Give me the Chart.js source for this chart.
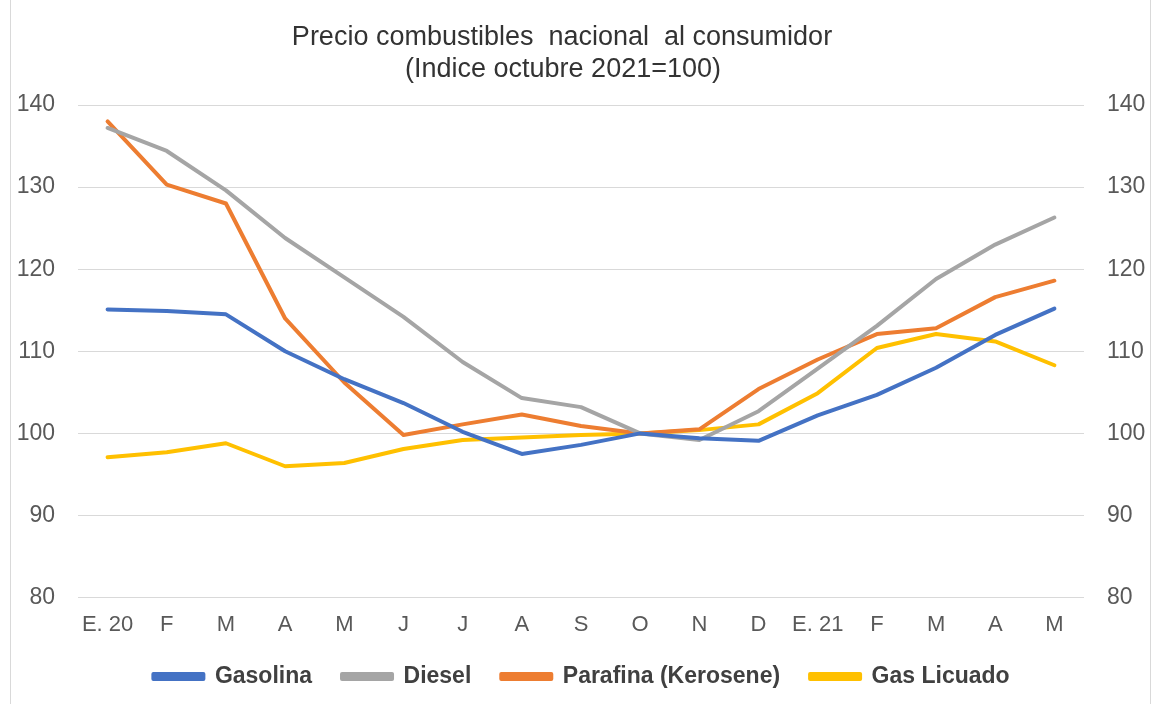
<!DOCTYPE html>
<html>
<head>
<meta charset="utf-8">
<script src="https://cdn.jsdelivr.net/npm/chart.js@4"></script>
<style>
  html, body { margin: 0; padding: 0; background: #fff; }
  #wrap { position: relative; width: 1163px; height: 704px; }
  #frame { position: absolute; left: 10px; top: 0; width: 1139px; height: 704px;
           border-left: 1px solid #d9d9d9; border-right: 1px solid #d9d9d9; pointer-events: none; }
</style>
</head>
<body>
<div id="wrap">
  <canvas id="c" width="1163" height="704"></canvas>
  <div id="frame"></div>
</div>
<script>
const titleLines = ["Precio combustibles  nacional  al consumidor", "(Indice octubre 2021=100)"];
const categories = ["E. 20", "F", "M", "A", "M", "J", "J", "A", "S", "O", "N", "D", "E. 21", "F", "M", "A", "M"];
const yTicks = [80, 90, 100, 110, 120, 130, 140];
const seriesNames = ["Gasolina", "Diesel", "Parafina (Kerosene)", "Gas Licuado"];
const gasolina = [115.1, 114.9, 114.5, 110.0, 106.6, 103.7, 100.2, 97.5, 98.6, 100.0, 99.4, 99.1, 102.2, 104.7, 108.0, 112.0, 115.2];
const diesel = [137.2, 134.4, 129.6, 123.8, 119.0, 114.2, 108.7, 104.3, 103.2, 100.0, 99.2, 102.7, 107.9, 113.1, 118.8, 123.0, 126.3];
const parafina = [138.0, 130.3, 128.0, 114.0, 106.2, 99.8, 101.1, 102.3, 100.9, 100.0, 100.5, 105.4, 109.0, 112.1, 112.8, 116.6, 118.6];
const gasLicuado = [97.1, 97.7, 98.8, 96.0, 96.4, 98.1, 99.2, 99.5, 99.8, 100.0, 100.4, 101.1, 104.9, 110.4, 112.1, 111.2, 108.3];

const colors = ["#4472C4", "#A5A5A5", "#ED7D31", "#FFC000"];
const seriesData = [gasolina, diesel, parafina, gasLicuado];

const FONT = "'Liberation Sans', Arial, sans-serif";

const titlePlugin = {
  id: 'customTitle',
  afterDraw(chart) {
    const ctx = chart.ctx;
    ctx.save();
    ctx.fillStyle = '#333333';
    ctx.font = "27px " + FONT;
    ctx.textAlign = 'center';
    ctx.textBaseline = 'middle';
    ctx.fillText(titleLines[0], 562, 38);
    ctx.fillText(titleLines[1], 563, 70);
    ctx.restore();
  }
};

const xFont = { family: FONT, size: 22 };
const yFont = { family: FONT, size: 23 };

new Chart(document.getElementById('c'), {
  type: 'line',
  data: {
    labels: categories,
    datasets: seriesNames.map((n, i) => ({
      label: n,
      data: seriesData[i],
      borderColor: colors[i],
      backgroundColor: colors[i],
      borderWidth: 4,
      pointRadius: 0,
      pointHoverRadius: 0,
      tension: 0,
      borderJoinStyle: 'round',
      borderCapStyle: 'round',
      yAxisID: 'y'
    }))
  },
  options: {
    responsive: false,
    animation: false,
    events: [],
    layout: { padding: { top: 105, left: 0, right: 0, bottom: 6 } },
    plugins: {
      title: { display: false },
      tooltip: { enabled: false },
      legend: {
        position: 'bottom',
        labels: {
          boxWidth: 50,
          boxHeight: 5,
          padding: 30,
          color: '#404040',
          font: { family: FONT, size: 23, weight: 'bold' }
        }
      }
    },
    scales: {
      x: {
        offset: true,
        grid: { display: false, drawTicks: false },
        border: { display: false },
        ticks: { color: '#595959', font: xFont, padding: 14, maxRotation: 0, autoSkip: false },
        afterFit: (s) => { s.height = s.height - 17; }
      },
      y: {
        position: 'left',
        min: yTicks[0],
        max: yTicks[yTicks.length - 1],
        afterBuildTicks: (s) => { s.ticks = yTicks.map(v => ({ value: v })); },
        grid: { color: '#d9d9d9', lineWidth: 1, drawTicks: false },
        border: { display: false },
        ticks: { color: '#595959', font: yFont, padding: 23 },
        afterFit: (s) => { s.width = 78; }
      },
      y2: {
        position: 'right',
        display: true,
        min: yTicks[0],
        max: yTicks[yTicks.length - 1],
        afterBuildTicks: (s) => { s.ticks = yTicks.map(v => ({ value: v })); },
        grid: { display: false, drawTicks: false },
        border: { display: false },
        ticks: { color: '#595959', font: yFont, padding: 23 },
        afterFit: (s) => { s.width = 79; }
      }
    }
  },
  plugins: [titlePlugin]
});
</script>
</body>
</html>
